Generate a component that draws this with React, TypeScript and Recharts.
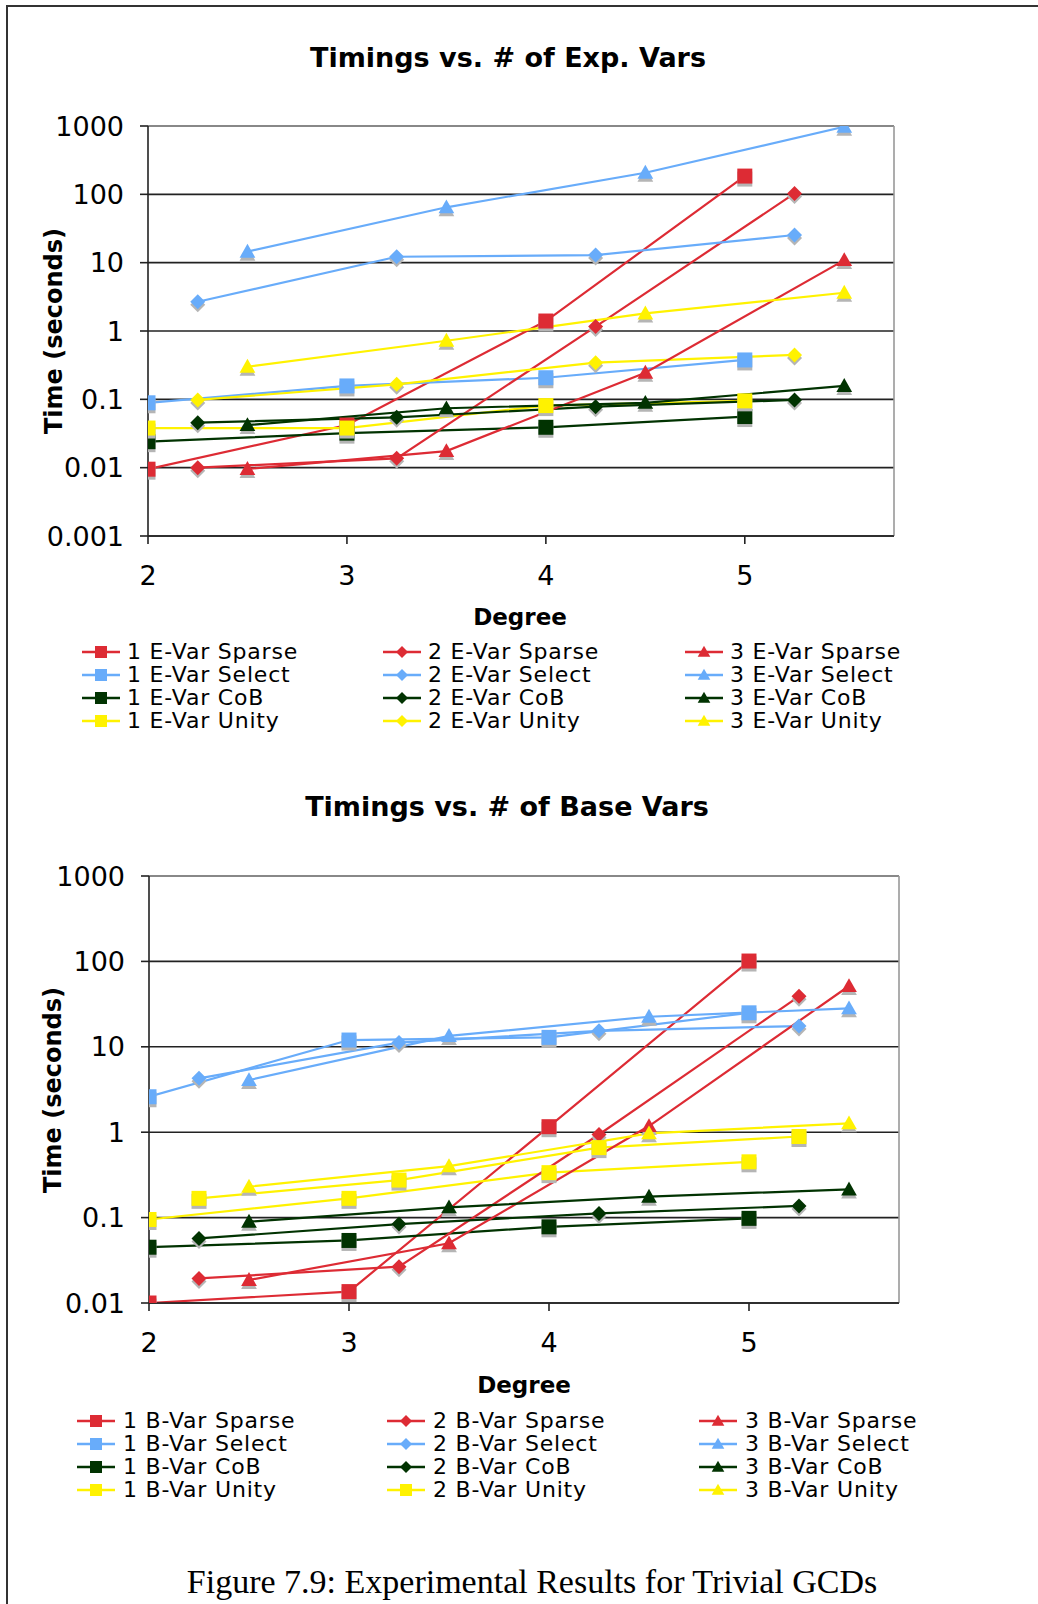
import React from 'react';
import { LineChart, Line, XAxis, YAxis, CartesianGrid, ReferenceLine } from 'recharts';

// degree positions (each var count is offset a little in the original chart)
const oneVarDegrees = [2, 3, 4, 5];
const twoVarDegrees = [2.25, 3.25, 4.25, 5.25];
const threeVarDegrees = [2.5, 3.5, 4.5, 5.5];
const degreeTicks = [2, 3, 4, 5];

const topTimeTicks = [0.001, 0.01, 0.1, 1, 10, 100, 1000];
const topTickLabels = ['0.001', '0.01', '0.1', '1', '10', '100', '1000'];
const bottomTimeTicks = [0.01, 0.1, 1, 10, 100, 1000];
const bottomTickLabels = ['0.01', '0.1', '1', '10', '100', '1000'];

// Timings vs. # of Exp. Vars
const exp1Sparse = [0.0095, 0.042, 1.4, 185];
const exp1Select = [0.089, 0.157, 0.207, 0.377];
const exp1CoB = [0.024, 0.032, 0.039, 0.056];
const exp1Unity = [0.038, 0.038, 0.081, 0.095];
const exp2Sparse = [0.01, 0.0137, 1.16, 103];
const exp2Select = [2.68, 12.2, 12.9, 25.4];
const exp2CoB = [0.0455, 0.0546, 0.078, 0.098];
const exp2Unity = [0.098, 0.166, 0.344, 0.446];
const exp3Sparse = [0.0096, 0.0175, 0.245, 10.9];
const exp3Select = [14.5, 64.6, 207, 975];
const exp3CoB = [0.042, 0.074, 0.089, 0.157];
const exp3Unity = [0.3, 0.72, 1.81, 3.63];

// Timings vs. # of Base Vars
const base1Sparse = [0.01, 0.0136, 1.16, 101];
const base1Select = [2.6, 12, 12.9, 25];
const base1CoB = [0.045, 0.054, 0.078, 0.098];
const base1Unity = [0.095, 0.168, 0.336, 0.45];
const base2Sparse = [0.0194, 0.0266, 0.94, 39];
const base2Select = [4.27, 11.2, 15.4, 17.5];
const base2CoB = [0.057, 0.084, 0.112, 0.137];
const base2Unity = [0.168, 0.275, 0.66, 0.89];
const base3Sparse = [0.0186, 0.05, 1.18, 51.5];
const base3Select = [4.08, 13.4, 22.5, 28.2];
const base3CoB = [0.0895, 0.132, 0.176, 0.214];
const base3Unity = [0.23, 0.4, 0.97, 1.27];

const RED = '#dd2b34';
const BLUE = '#68acfa';
const GREEN = '#013301';
const YELLOW = '#fff200';
const FONT = '"DejaVu Sans", Verdana, sans-serif';

type Shape = 'square' | 'diamond' | 'triangle';
interface Series {
  name: string;
  color: string;
  shape: Shape;
  xs: number[];
  ys: number[];
}

const mk = (name: string, color: string, shape: Shape, xs: number[], ys: number[]): Series => ({ name, color, shape, xs, ys });

const expSeries: Series[] = [
  mk('1 E-Var Sparse', RED, 'square', oneVarDegrees, exp1Sparse),
  mk('1 E-Var Select', BLUE, 'square', oneVarDegrees, exp1Select),
  mk('1 E-Var CoB', GREEN, 'square', oneVarDegrees, exp1CoB),
  mk('1 E-Var Unity', YELLOW, 'square', oneVarDegrees, exp1Unity),
  mk('2 E-Var Sparse', RED, 'diamond', twoVarDegrees, exp2Sparse),
  mk('2 E-Var Select', BLUE, 'diamond', twoVarDegrees, exp2Select),
  mk('2 E-Var CoB', GREEN, 'diamond', twoVarDegrees, exp2CoB),
  mk('2 E-Var Unity', YELLOW, 'diamond', twoVarDegrees, exp2Unity),
  mk('3 E-Var Sparse', RED, 'triangle', threeVarDegrees, exp3Sparse),
  mk('3 E-Var Select', BLUE, 'triangle', threeVarDegrees, exp3Select),
  mk('3 E-Var CoB', GREEN, 'triangle', threeVarDegrees, exp3CoB),
  mk('3 E-Var Unity', YELLOW, 'triangle', threeVarDegrees, exp3Unity),
];

const baseSeries: Series[] = [
  mk('1 B-Var Sparse', RED, 'square', oneVarDegrees, base1Sparse),
  mk('1 B-Var Select', BLUE, 'square', oneVarDegrees, base1Select),
  mk('1 B-Var CoB', GREEN, 'square', oneVarDegrees, base1CoB),
  mk('1 B-Var Unity', YELLOW, 'square', oneVarDegrees, base1Unity),
  mk('2 B-Var Sparse', RED, 'diamond', twoVarDegrees, base2Sparse),
  mk('2 B-Var Select', BLUE, 'diamond', twoVarDegrees, base2Select),
  mk('2 B-Var CoB', GREEN, 'diamond', twoVarDegrees, base2CoB),
  mk('2 B-Var Unity', YELLOW, 'square', twoVarDegrees, base2Unity),
  mk('3 B-Var Sparse', RED, 'triangle', threeVarDegrees, base3Sparse),
  mk('3 B-Var Select', BLUE, 'triangle', threeVarDegrees, base3Select),
  mk('3 B-Var CoB', GREEN, 'triangle', threeVarDegrees, base3CoB),
  mk('3 B-Var Unity', YELLOW, 'triangle', threeVarDegrees, base3Unity),
];

const markerPath = (shape: Shape, cx: number, cy: number, size: number) => {
  const h = size / 2;
  if (shape === 'square') return `M${cx - h},${cy - h}h${size}v${size}h${-size}Z`;
  if (shape === 'diamond') return `M${cx},${cy - h}L${cx + h},${cy}L${cx},${cy + h}L${cx - h},${cy}Z`;
  return `M${cx},${cy - h * 1.05}L${cx + h * 1.05},${cy + h * 0.8}L${cx - h * 1.05},${cy + h * 0.8}Z`;
};

const Marker = ({ cx, cy, shape, color, size, shadow }: any) => {
  if (cx == null || cy == null || isNaN(cx) || isNaN(cy)) return <g />;
  const d = markerPath(shape, cx, cy, size);
  return (
    <g>
      {shadow && <path d={d} fill="#b5b5b5" transform="translate(0,3)" />}
      <path d={d} fill={color} />
    </g>
  );
};

interface ChartProps {
  title: string;
  series: Series[];
  ticks: number[];
  tickLabels: string[];
  plot: { left: number; right: number; top: number; bottom: number };
  titleY: number;
  titleX: number;
  degreeX: number;
  degreeY: number;
  yLabelX: number;
  legend: { cols: number[]; textOffset: number; rowTop: number; rowStep: number };
}

const TimingChart = ({ title, series, ticks, tickLabels, plot, titleX, titleY, degreeX, degreeY, yLabelX, legend }: ChartProps) => {
  const chartTop = plot.top - 20;
  const width = plot.right + 40;
  const height = plot.bottom - chartTop + 60;
  return (
    <>
      <div style={{ position: 'absolute', left: titleX, top: titleY, transform: 'translate(-50%,-50%)', fontFamily: FONT, fontWeight: 'bold', fontSize: 27, whiteSpace: 'nowrap', color: '#000' }}>
        {title}
      </div>
      <div style={{ position: 'absolute', left: 0, top: chartTop }}>
        <LineChart width={width} height={height} margin={{ top: 20, right: 40, bottom: 20, left: 0 }}>
          <CartesianGrid horizontal vertical={false} stroke="#222" strokeWidth={1.6} />
          <ReferenceLine y={ticks[ticks.length - 1]} stroke="#999" strokeWidth={1.6} />
          <ReferenceLine x={5.75} stroke="#999" strokeWidth={1.6} />
          <XAxis
            type="number"
            dataKey="x"
            domain={[2, 5.75]}
            ticks={degreeTicks}
            allowDataOverflow
            height={40}
            tickSize={8}
            tickMargin={22}
            interval={0}
            axisLine={{ stroke: '#222', strokeWidth: 1.6 }}
            tickLine={{ stroke: '#222', strokeWidth: 1.6 }}
            tick={{ fill: '#000', fontSize: 27, fontFamily: FONT }}
          />
          <YAxis
            type="number"
            scale="log"
            domain={[ticks[0], ticks[ticks.length - 1]]}
            ticks={ticks}
            allowDataOverflow
            width={plot.left}
            tickSize={8}
            tickMargin={16}
            interval={0}
            tickFormatter={(v: number) => tickLabels[ticks.indexOf(v)] ?? String(v)}
            axisLine={{ stroke: '#222', strokeWidth: 1.6 }}
            tickLine={{ stroke: '#222', strokeWidth: 1.6 }}
            tick={{ fill: '#000', fontSize: 27, fontFamily: FONT }}
          />
          {series.map((s) => (
            <Line
              key={s.name}
              name={s.name}
              data={s.xs.map((x, i) => ({ x, y: s.ys[i] }))}
              dataKey="y"
              type="linear"
              stroke={s.color}
              strokeWidth={2.2}
              isAnimationActive={false}
              activeDot={false}
              dot={(p: any) => <Marker key={`${s.name}-${p.index}`} cx={p.cx} cy={p.cy} shape={s.shape} color={s.color} size={15} shadow />}
            />
          ))}
        </LineChart>
      </div>
      <div style={{ position: 'absolute', left: yLabelX, top: (plot.top + plot.bottom) / 2, transform: 'translate(-50%,-50%) rotate(-90deg)', fontFamily: FONT, fontWeight: 'bold', fontSize: 24, whiteSpace: 'nowrap' }}>
        Time (seconds)
      </div>
      <div style={{ position: 'absolute', left: degreeX, top: degreeY, transform: 'translate(-50%,-50%)', fontFamily: FONT, fontWeight: 'bold', fontSize: 23, whiteSpace: 'nowrap' }}>
        Degree
      </div>
      {series.map((s, i) => {
        const col = Math.floor(i / 4);
        const row = i % 4;
        const x = legend.cols[col];
        const y = legend.rowTop + row * legend.rowStep;
        return (
          <div key={s.name} style={{ position: 'absolute', left: x, top: y - 10, height: 20, display: 'flex', alignItems: 'center', whiteSpace: 'nowrap' }}>
            <svg width={38} height={20} style={{ display: 'block' }}>
              <line x1={0} y1={10} x2={38} y2={10} stroke={s.color} strokeWidth={2.6} />
              <Marker cx={19} cy={10} shape={s.shape} color={s.color} size={12} />
            </svg>
            <span style={{ marginLeft: legend.textOffset - 38, fontFamily: FONT, fontSize: 22, letterSpacing: 0.8, lineHeight: '20px', height: 20, color: '#000' }}>{s.name}</span>
          </div>
        );
      })}
    </>
  );
};

const App = () => {
  return (
    <div style={{ position: 'absolute', left: 0, top: 0, width: 1038, height: 1604, background: '#fff', overflow: 'hidden' }}>
      <div style={{ position: 'absolute', left: 6, top: 5, width: 1040, height: 1610, borderTop: '2px solid #333', borderLeft: '2px solid #333' }} />
      <TimingChart
        title="Timings vs. # of Exp. Vars"
        series={expSeries}
        ticks={topTimeTicks}
        tickLabels={topTickLabels}
        plot={{ left: 148, right: 894, top: 126, bottom: 536 }}
        titleX={508}
        titleY={57}
        degreeX={520}
        degreeY={617}
        yLabelX={54}
        legend={{ cols: [82, 383, 685], textOffset: 45, rowTop: 652, rowStep: 23 }}
      />
      <TimingChart
        title="Timings vs. # of Base Vars"
        series={baseSeries}
        ticks={bottomTimeTicks}
        tickLabels={bottomTickLabels}
        plot={{ left: 149, right: 899, top: 876, bottom: 1303 }}
        titleX={507}
        titleY={806}
        degreeX={524}
        degreeY={1385}
        yLabelX={53}
        legend={{ cols: [77, 387, 699], textOffset: 46, rowTop: 1421, rowStep: 23 }}
      />
      <div style={{ position: 'absolute', left: 532, top: 1582, transform: 'translate(-50%,-50%)', fontFamily: '"Liberation Serif", "Times New Roman", serif', fontSize: 34, whiteSpace: 'nowrap', color: '#000' }}>
        Figure 7.9: Experimental Results for Trivial GCDs
      </div>
    </div>
  );
};

export default App;
